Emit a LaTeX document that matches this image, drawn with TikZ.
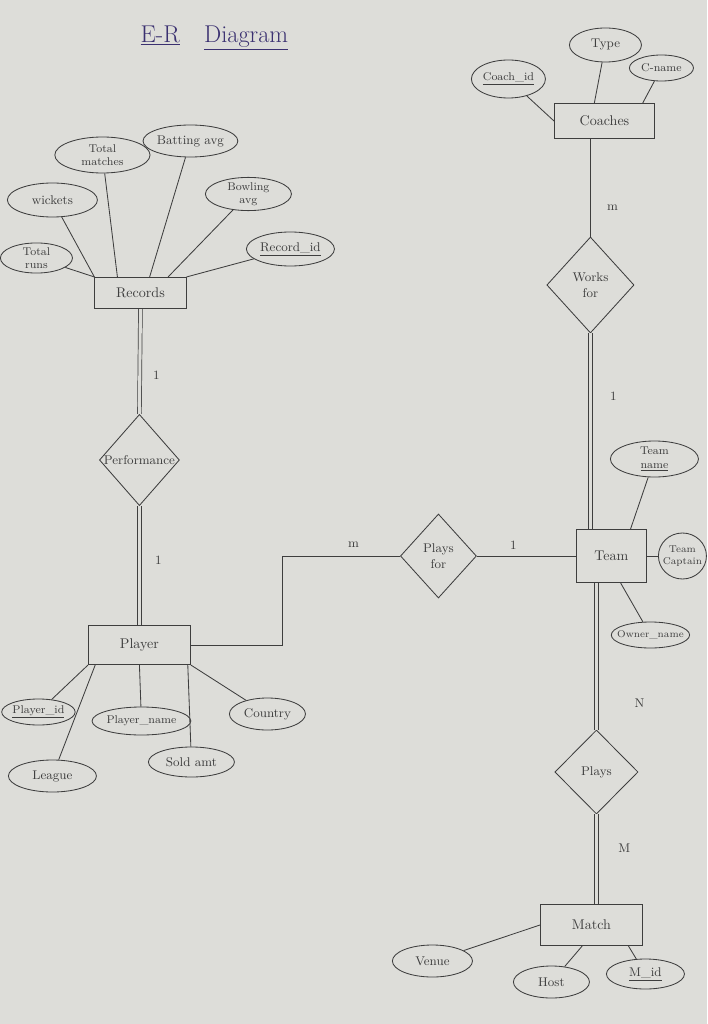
\documentclass[tikz,border=0pt]{standalone}
\usepackage{tikz}
\usetikzlibrary{shapes.geometric,calc}
\definecolor{paper}{RGB}{221,221,217}
\definecolor{pencil}{RGB}{62,62,62}
\definecolor{ink}{RGB}{58,48,112}

\begin{document}
\begin{tikzpicture}[x=0.025cm,y=-0.025cm,color=pencil,line width=0.6pt,
	entity/.style={draw,rectangle,inner sep=2pt},
	attr/.style={draw,ellipse,inner sep=0pt,font=\small,align=center},
	rel/.style={draw,diamond,inner sep=0pt,aspect=0.9,font=\small,align=center},
	total/.style={double=paper,double distance=2.2pt,line width=0.5pt},
	card/.style={font=\small}]
	\fill[paper] (0,0) rectangle (707,1024);

	%title
	\node[text=ink,font=\LARGE] (title) at (214,38) {\underline{E-R}\quad\underline{Diagram}};

	%entities
	\node[entity,minimum width=2.28cm,minimum height=0.78cm] (rec) at (140,293) {Records};
	\node[entity,minimum width=2.55cm,minimum height=0.98cm] (ply) at (139,645) {Player};
	\node[entity,minimum width=1.75cm,minimum height=1.33cm] (team) at (611,556) {Team};
	\node[entity,minimum width=2.5cm,minimum height=0.88cm] (coach) at (604,121) {Coaches};
	\node[entity,minimum width=2.55cm,minimum height=1.03cm] (match) at (591,925) {Match};

	%relationships
	\node[rel,minimum width=2cm,minimum height=2.28cm] (perf) at (139,460) {Performance};
	\node[rel,minimum width=1.9cm,minimum height=2.1cm] (pfor) at (438,556) {Plays\\for};
	\node[rel,minimum width=2.18cm,minimum height=2.4cm] (wfor) at (590,285) {Works\\for};
	\node[rel,minimum width=2.08cm,minimum height=2.1cm] (plays) at (596,772) {Plays};

	%attributes of Records
	\node[attr,font=\footnotesize,minimum width=1.8cm,minimum height=0.75cm] (trun) at (36,258) {Total\\runs};
	\node[attr,minimum width=2.25cm,minimum height=0.85cm] (wkt) at (52,200) {wickets};
	\node[attr,font=\footnotesize,minimum width=2.38cm,minimum height=0.9cm] (tmat) at (102,155) {Total\\matches};
	\node[attr,minimum width=2.2cm,minimum height=0.8cm] (bavg) at (190,141) {Batting avg};
	\node[attr,font=\footnotesize,minimum width=2.15cm,minimum height=0.8cm] (bowl) at (248,194) {Bowling\\avg};
	\node[attr,minimum width=2.2cm,minimum height=0.85cm] (rid) at (290,249) {\underline{Record\_id}};

	%attributes of Player
	\node[attr,font=\footnotesize,minimum width=1.65cm,minimum height=0.65cm] (pid) at (38,712) {\underline{Player\_id}};
	\node[attr,minimum width=2.2cm,minimum height=0.8cm] (lg) at (52,776) {League};
	\node[attr,font=\footnotesize,minimum width=2.2cm,minimum height=0.7cm] (pname) at (141,721) {Player\_name};
	\node[attr,minimum width=2.15cm,minimum height=0.75cm] (sold) at (191,762) {Sold amt};
	\node[attr,minimum width=1.9cm,minimum height=0.8cm] (cty) at (267,714) {Country};

	%attributes of Team
	\node[attr,font=\footnotesize,minimum width=2.2cm,minimum height=0.9cm] (tname) at (654,459) {Team\\\underline{name}};
	\node[attr,font=\scriptsize,inner xsep=-2pt,minimum width=1.2cm,minimum height=1.15cm] (tcap) at (682,556) {Team\\Captain};
	\node[attr,font=\scriptsize,inner xsep=-4pt,minimum width=1.75cm,minimum height=0.65cm] (own) at (650,635) {Owner\_name};

	%attributes of Coaches
	\node[attr,font=\footnotesize,minimum width=1.85cm,minimum height=0.95cm] (cid) at (508,79) {\underline{Coach\_id}};
	\node[attr,minimum width=1.8cm,minimum height=0.85cm] (ctype) at (605,45) {Type};
	\node[attr,font=\footnotesize,minimum width=1.6cm,minimum height=0.65cm] (cname) at (661,68) {C-name};

	%attributes of Match
	\node[attr,minimum width=2cm,minimum height=0.8cm] (venue) at (432,961) {Venue};
	\node[attr,minimum width=1.9cm,minimum height=0.8cm] (host) at (551,982) {Host};
	\node[attr,minimum width=1.95cm,minimum height=0.75cm] (mid) at (645,974) {\underline{M\_id}};

	%attribute links
	\draw (trun) -- (rec.north west);
	\draw (wkt) -- (rec.north west);
	\draw (tmat) -- ($(rec.north west)!0.25!(rec.north east)$);
	\draw (bavg) -- ($(rec.north west)!0.6!(rec.north east)$);
	\draw (bowl) -- ($(rec.north west)!0.8!(rec.north east)$);
	\draw (rid) -- (rec.north east);
	%
	\draw (pid) -- (ply.south west);
	\draw (lg) -- ($(ply.south west)!0.07!(ply.south east)$);
	\draw (pname) -- (ply.south);
	\draw (sold) -- ($(ply.south west)!0.97!(ply.south east)$);
	\draw (cty) -- (ply.south east);
	%
	\draw (tname) -- ($(team.north west)!0.77!(team.north east)$);
	\draw (tcap) -- (team.east);
	\draw (own) -- ($(team.south west)!0.63!(team.south east)$);
	%
	\draw (cid) -- (coach.west);
	\draw (ctype) -- ($(coach.north west)!0.4!(coach.north east)$);
	\draw (cname) -- ($(coach.north west)!0.88!(coach.north east)$);
	%
	\draw (venue) -- (match.west);
	\draw (host) -- ($(match.south west)!0.41!(match.south east)$);
	\draw (mid) -- ($(match.south west)!0.86!(match.south east)$);

	%relationship links
	\draw[total] (rec.south) -- (perf.north);
	\draw[total] (perf.south) -- (ply.north);
	\coordinate (bend) at (282,645);
	\draw (ply.east) -- (bend) |- (pfor.west);
	\draw (pfor.east) -- (team.west);
	\draw (wfor.north |- coach.south) -- (wfor.north);
	\draw[total] (wfor.south) -- (wfor.south |- team.north);
	\draw[total] (plays.north |- team.south) -- (plays.north);
	\draw[total] (plays.south) -- (plays.south |- match.north);

	%cardinalities
	\foreach \n/\x/\y/\t in {c1/156/375/1, c2/158/560/1, c3/353/545/m, c4/513/545/1,
		c5/612/208/m, c6/613/396/1, c7/639/703/N, c8/624/848/M}
	\node[card] (\n) at (\x,\y) {\t};
\end{tikzpicture}
\end{document}
